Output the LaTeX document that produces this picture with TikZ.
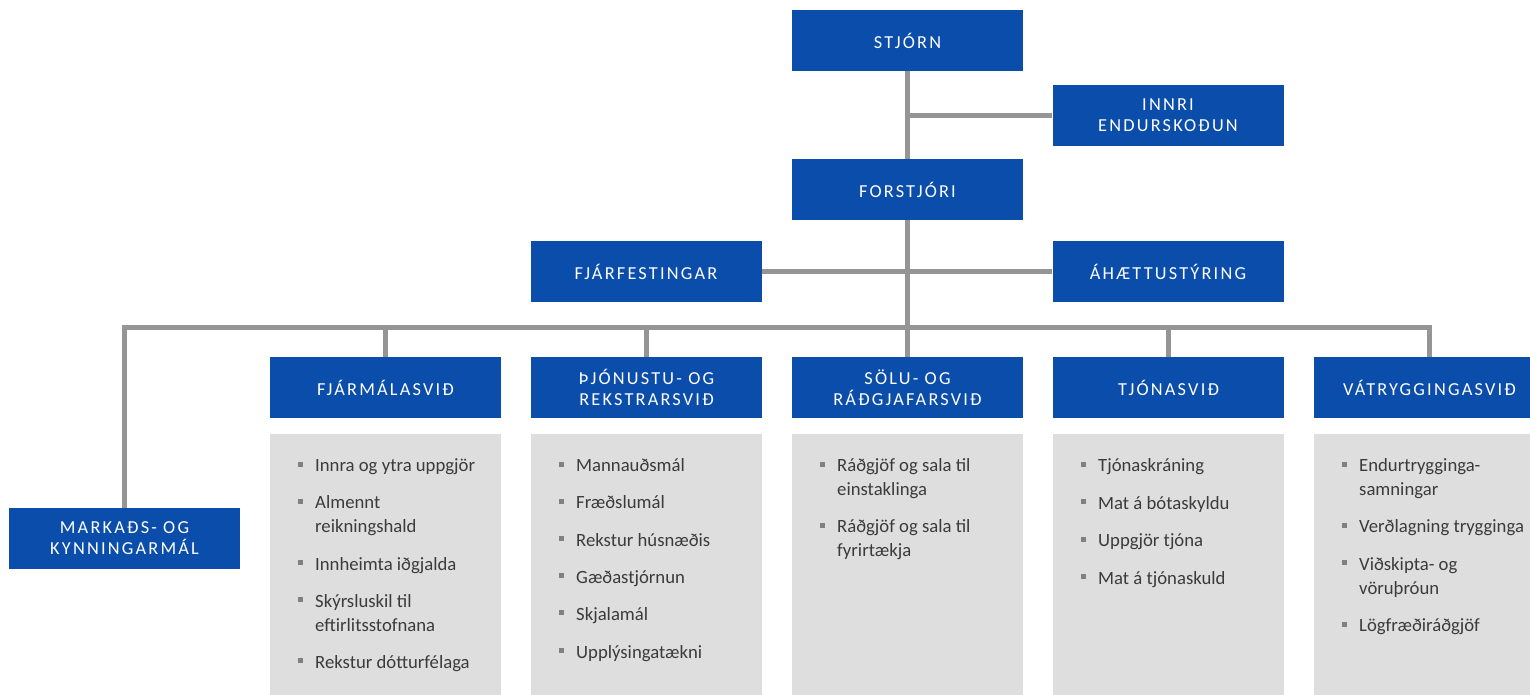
\documentclass[tikz,border=0pt]{standalone}
\usepackage{fontspec}
\setmainfont{Carlito}
\newfontfamily\hdrfont{Carlito}[LetterSpace=12]
\definecolor{boxblue}{HTML}{0A4DAA}
\definecolor{linegray}{HTML}{959595}
\definecolor{panelgray}{HTML}{DEDEDE}
\definecolor{itemtext}{HTML}{3B3B3B}
\definecolor{bulgray}{HTML}{808080}
\newcommand{\bul}{\textcolor{bulgray}{\rule[5pt]{5pt}{5pt}}\hspace{12pt}}
\begin{document}
\begin{tikzpicture}[x=1pt,y=-1pt,
  hdr/.style={fill=boxblue, text=white, minimum width=231pt, minimum height=61pt, inner sep=0pt, align=center, font=\hdrfont\fontsize{18.3}{21}\selectfont},
  panel/.style={fill=panelgray, minimum width=231pt, minimum height=261pt, inner sep=0pt},
  conn/.style={draw=linegray, line width=5pt, line join=miter},
  itm/.style={anchor=base west, inner sep=0pt, text=itemtext, font=\fontsize{18.7}{24}\selectfont}
]
\clip (0,0) rectangle (1530,695);
% header boxes
\node[hdr] (stjorn) at (907.5,40.5) {STJÓRN};
\node[hdr] (innri) at (1168,115.5) {INNRI\\ENDURSKOÐUN};
\node[hdr] (forstjori) at (907.5,189.5) {FORSTJÓRI};
\node[hdr] (fjarf) at (646,271.5) {FJÁRFESTINGAR};
\node[hdr] (ahaet) at (1168,271.5) {ÁHÆTTUSTÝRING};
\node[hdr] (fjarm) at (385.5,387.5) {FJÁRMÁLASVIÐ};
\node[hdr] (thjon) at (646.5,387.5) {ÞJÓNUSTU- OG\\REKSTRARSVIÐ};
\node[hdr] (solu) at (907.5,387.5) {SÖLU- OG\\RÁÐGJAFARSVIÐ};
\node[hdr] (tjona) at (1168.5,387.5) {TJÓNASVIÐ};
\node[hdr] (vatr) at (1429.5,387.5) {VÁTRYGGINGASVIÐ};
\node[hdr] (markad) at (124.5,538.5) {MARKAÐS- OG\\KYNNINGARMÁL};
% panels
\node[panel] (p1) at (385.5,564.5) {};
\node[panel] (p2) at (646.5,564.5) {};
\node[panel] (p3) at (907.5,564.5) {};
\node[panel] (p4) at (1168.5,564.5) {};
\node[panel] (p5) at (1429.5,564.5) {};
% connectors
\coordinate (bus) at (907.5,327);
\draw[conn] (stjorn.south) -- (forstjori.north);
\draw[conn] (stjorn.south |- innri.west) -- (innri.west);
\draw[conn] (fjarf.east) -- (ahaet.west);
\draw[conn] (forstjori.south) -- (bus) -- (solu.north);
\draw[conn] (markad.north) -- (markad.north |- bus) -- (vatr.north |- bus) -- (vatr.north);
\draw[conn] (fjarm.north |- bus) -- (fjarm.north);
\draw[conn] (thjon.north |- bus) -- (thjon.north);
\draw[conn] (tjona.north |- bus) -- (tjona.north);
% column 1
\node[itm] (a1) at (298,471.5) {\bul Innra og ytra uppgjör};
\node[itm] (a2) at (298,508.5) {\bul Almennt};
\node[itm] (a2b) at (315,532.5) {reikningshald};
\node[itm] (a3) at (298,570) {\bul Innheimta iðgjalda};
\node[itm] (a4) at (298,607) {\bul Skýrsluskil til};
\node[itm] (a4b) at (315,631) {eftirlitsstofnana};
\node[itm] (a5) at (298,668) {\bul Rekstur dótturfélaga};
% column 2
\node[itm] (b1) at (559,471.5) {\bul Mannauðsmál};
\node[itm] (b2) at (559,508.5) {\bul Fræðslumál};
\node[itm] (b3) at (559,546) {\bul Rekstur húsnæðis};
\node[itm] (b4) at (559,583) {\bul Gæðastjórnun};
\node[itm] (b5) at (559,620) {\bul Skjalamál};
\node[itm] (b6) at (559,658) {\bul Upplýsingatækni};
% column 3
\node[itm] (c1) at (820,471.5) {\bul Ráðgjöf og sala til};
\node[itm] (c1b) at (837,495.5) {einstaklinga};
\node[itm] (c2) at (820,532.5) {\bul Ráðgjöf og sala til};
\node[itm] (c2b) at (837,556.5) {fyrirtækja};
% column 4
\node[itm] (d1) at (1081,471.5) {\bul Tjónaskráning};
\node[itm] (d2) at (1081,509) {\bul Mat á bótaskyldu};
\node[itm] (d3) at (1081,546.5) {\bul Uppgjör tjóna};
\node[itm] (d4) at (1081,584) {\bul Mat á tjónaskuld};
% column 5
\node[itm] (e1) at (1342,471.5) {\bul Endurtrygginga-};
\node[itm] (e1b) at (1359,495.5) {samningar};
\node[itm] (e2) at (1342,532.5) {\bul Verðlagning trygginga};
\node[itm] (e3) at (1342,570) {\bul Viðskipta- og};
\node[itm] (e3b) at (1359,594) {vöruþróun};
\node[itm] (e4) at (1342,631.5) {\bul Lögfræðiráðgjöf};
\end{tikzpicture}
\end{document}
